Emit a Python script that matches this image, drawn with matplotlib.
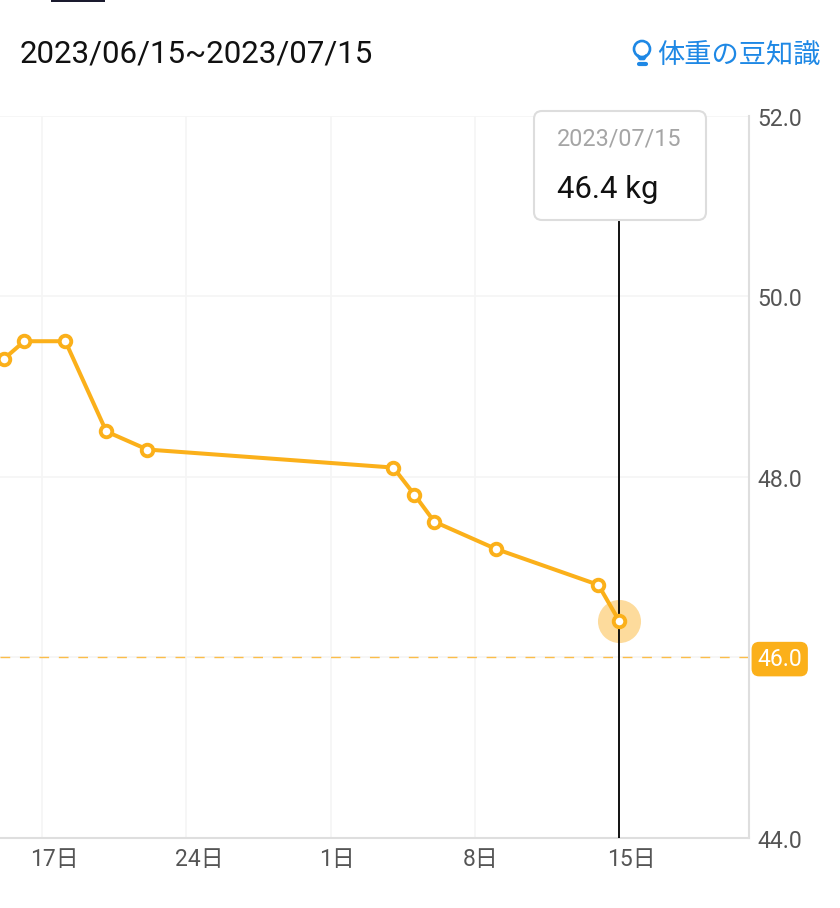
import matplotlib
matplotlib.use("Agg")
import matplotlib.pyplot as plt
import matplotlib.patches as patches
from matplotlib.transforms import ScaledTranslation

plt.rcParams['font.family'] = ['Roboto', 'Noto Sans CJK JP', 'DejaVu Sans']

# days since 2023/06/15
days = [0.13, 1.14, 3.13, 5.12, 7.11, 19.05, 20.07, 21.04, 24.01, 29.0, 30.01]
weights = [49.3, 49.5, 49.5, 48.5, 48.3, 48.1, 47.8, 47.5, 47.2, 46.8, 46.4]

tick_days = [2, 9, 16, 23, 30]
tick_labels = ['17日', '24日', '1日', '8日', '15日']
y_ticks = [44, 46, 48, 50, 52]
y_labels = ['44.0', '46.0', '48.0', '50.0', '52.0']
goal = 46.0

title = '2023/06/15~2023/07/15'
link = '体重の豆知識'
tip_date = '2023/07/15'
tip_value = '46.4 kg'

ORANGE = '#fbb01a'
W, H = 840, 908
fig = plt.figure(figsize=(W / 100, H / 100), dpi=100, facecolor='white')

# chart area, placed by pixels
ax = fig.add_axes([0, 1 - 837.6 / H, 749 / W, 722 / H])
ax.set_xlim(-0.04, 36.31)
ax.set_ylim(44, 52)
for s in ['top', 'left']:
    ax.spines[s].set_visible(False)
ax.spines['bottom'].set_color('#dedede')
ax.spines['right'].set_color('#dedede')
ax.spines['bottom'].set_linewidth(1.5)
ax.spines['right'].set_linewidth(1.5)
ax.grid(True, color='#f5f5f5', linewidth=1.2)
ax.set_axisbelow(True)

ax.set_xticks(tick_days)
ax.set_xticklabels(tick_labels, fontsize=16.5, color='#555555', ha='left')
ax.yaxis.tick_right()
ax.set_yticks(y_ticks)
ax.set_yticklabels(y_labels, fontsize=16.6, color='#555555')
ax.tick_params(length=0, axis='x', pad=7.5)
ax.tick_params(length=0, axis='y', pad=6)
for lab in ax.get_xticklabels():
    lab.set_transform(lab.get_transform() + ScaledTranslation(-11.5 / 100, 0, fig.dpi_scale_trans))
for lab in ax.get_yticklabels():
    lab.set_transform(lab.get_transform() + ScaledTranslation(0, -1 / 100, fig.dpi_scale_trans))

# goal line, its label gets the orange box
ax.axhline(goal, color='#fbbd4a', linewidth=1, dashes=(7, 7), zorder=2)
goal_lab = ax.get_yticklabels()[y_ticks.index(46)]
goal_lab.set_color('white')
goal_lab.set_bbox(dict(boxstyle='round,pad=0.22,rounding_size=0.3', facecolor=ORANGE, edgecolor=ORANGE))
goal_lab.set_transform(goal_lab.get_transform() + ScaledTranslation(0, 1.5 / 100, fig.dpi_scale_trans))

# cursor on the last point
ax.plot([days[-1], days[-1]], [44, 50.85], color='black', linewidth=1.3, zorder=3)
ax.plot(days[-1], weights[-1], 'o', ms=31, color='#fddb9c', mew=0, zorder=2.5, clip_on=False)

ax.plot(days, weights, color=ORANGE, linewidth=2.9, marker='o', ms=8.3, mew=2.8,
        mfc='white', mec=ORANGE, zorder=4)

# overlay in pixels for the header and tooltip
ov = fig.add_axes([0, 0, 1, 1], facecolor='none')
ov.set_xlim(0, W)
ov.set_ylim(H, 0)
ov.axis('off')

ov.add_patch(patches.Rectangle((51, 0), 54, 1.5, facecolor='#1a1a2e', edgecolor='none'))
ov.text(20, 54, title, fontsize=22.5, color='#111111', va='center', ha='left')
ov.text(657, 56, link, fontsize=19.6, color='#1e88e5', va='center', ha='left')

# bulb icon
ov.add_patch(patches.Circle((642, 49), 8, facecolor='white', edgecolor='#1e88e5', linewidth=1.9))
ov.plot([638, 640, 644, 646], [56, 59, 59, 56], color='#1e88e5', linewidth=1.9)
ov.plot([638.5, 645.5], [63.5, 63.5], color='#1e88e5', linewidth=3, solid_capstyle='round')

# tooltip
ov.add_patch(patches.FancyBboxPatch((534, 111), 172, 109, boxstyle='round,pad=0,rounding_size=8',
                                    facecolor='white', edgecolor='#dddddd', linewidth=1.5))
ov.text(557, 139, tip_date, fontsize=16.8, color='#a5a5a5', va='center', ha='left')
ov.text(557, 190, tip_value, fontsize=22.3, color='#111111', va='center', ha='left')

fig.savefig('out.png', dpi=100)
